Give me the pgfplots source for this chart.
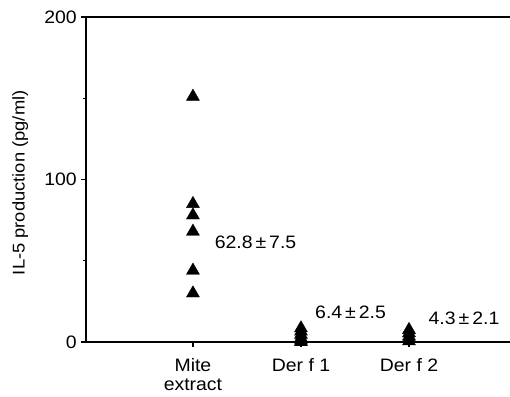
\documentclass[border=0pt]{standalone}
\usepackage{pgfplots}
\pgfplotsset{compat=1.18}
\usepackage{fontspec}
\setmainfont[FakeStretch=1.08]{Liberation Sans}
\begin{document}
\fontsize{18}{20}\selectfont
\begin{tikzpicture}
\useasboundingbox (-86pt,-54pt) rectangle (424pt,342pt);
\begin{axis}[
  at={(0pt,0pt)}, anchor=south west,
  scale only axis, width=424pt, height=325pt,
  xmin=0.01, xmax=3.935, ymin=0, ymax=200,
  axis x line=box, axis y line=left,
  axis line style={-, line width=2.2pt, black},
  xtick={1,2,3},
  xticklabels={{Mite\\extract},{Der f 1},{Der f 2}},
  xticklabel style={align=center, yshift=-5pt, font=\fontsize{18}{19.5}\selectfont},
  yticklabel style={font=\fontsize{18}{19}\selectfont, xshift=2pt},
  ytick={0,100,200},
  minor ytick={50,150},
  xtick pos=left, ytick pos=left,
  tick align=outside,
  major tick length=5pt, minor tick length=3pt,
  tick style={line width=1.3pt, black},
  /pgf/number format/assume math mode=true,
  clip=false,
]
\addplot[only marks, mark=triangle*, mark size=7.5pt, black]
  coordinates {(1,151) (1,85) (1,78) (1,68) (1,44) (1,30)};
\addplot[only marks, mark=triangle*, mark size=7.5pt, black]
  coordinates {(2,8.5) (2,6.5) (2,4.5) (2,2.5) (2,1) (2,0)};
\addplot[only marks, mark=triangle*, mark size=7.5pt, black]
  coordinates {(3,7.5) (3,5.5) (3,3.5) (3,2) (3,0.5)};
\node[anchor=west, inner sep=0pt] at (axis cs:1.2,61.5) {62.8\,±\,7.5};
\node[anchor=west, inner sep=0pt] at (axis cs:2.13,18.5) {6.4\,±\,2.5};
\node[anchor=west, inner sep=0pt] at (axis cs:3.18,14.8) {4.3\,±\,2.1};
\node[rotate=90, inner sep=0pt, font=\fontsize{17}{19}\selectfont] at (rel axis cs:-0.155,0.49) {IL-5 production (pg/ml)};
\end{axis}
\end{tikzpicture}
\end{document}
